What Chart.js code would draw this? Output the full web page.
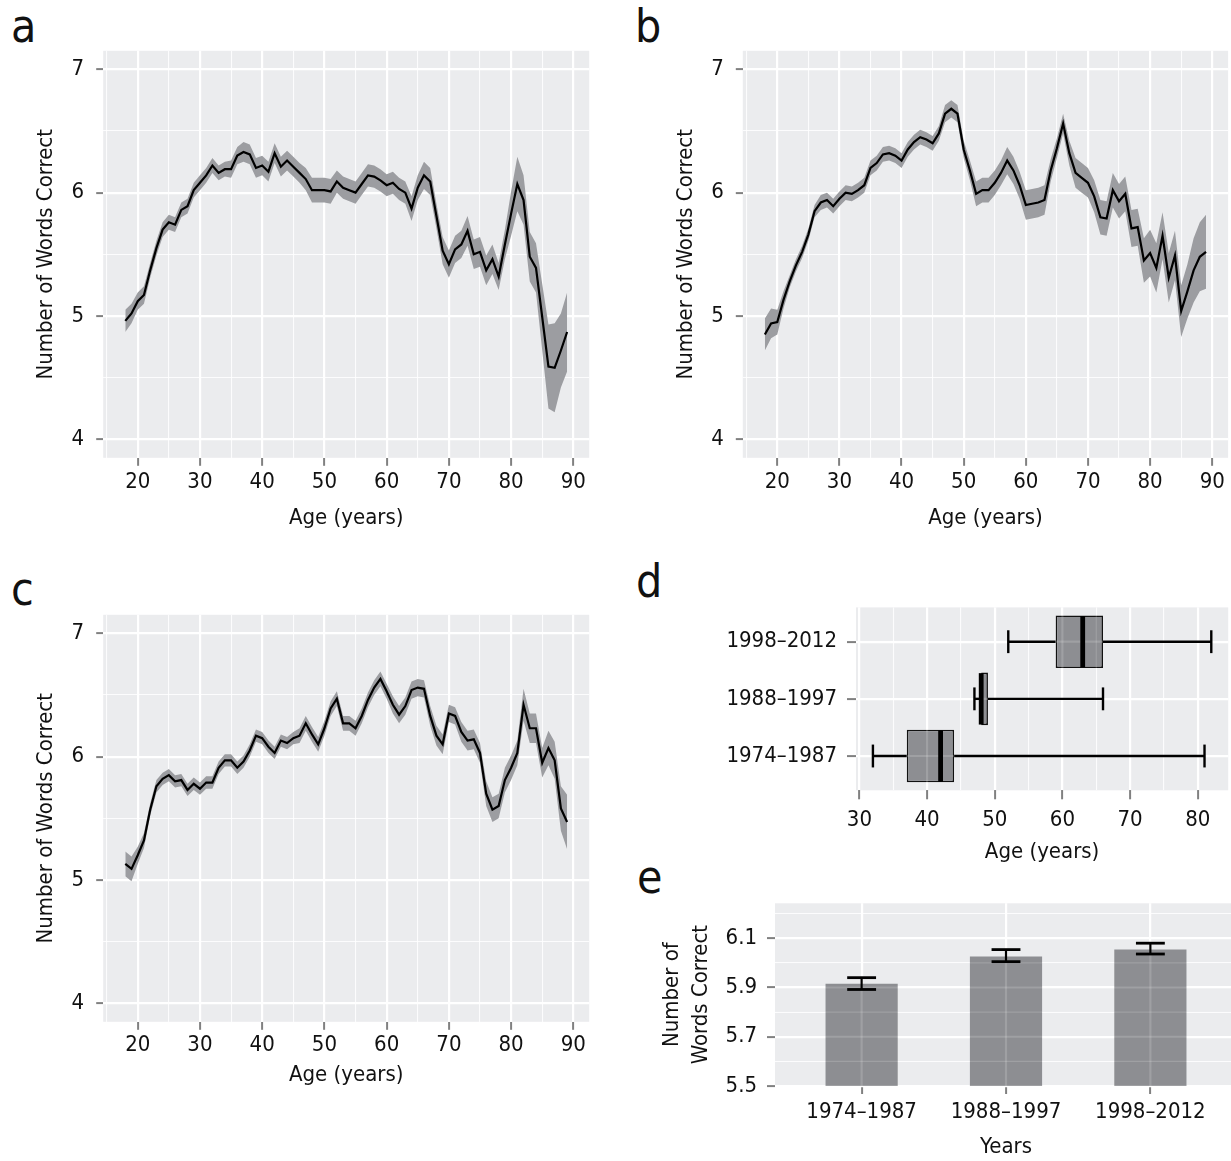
<!DOCTYPE html>
<html>
<head>
<meta charset="utf-8">
<script src="https://cdn.jsdelivr.net/npm/chart.js@4.4.1/dist/chart.umd.min.js"></script>
<style>
  html, body { margin: 0; padding: 0; background: #fff; width: 1231px; height: 1161px; overflow: hidden; }
  canvas { position: absolute; }
  .tag { position: absolute; font-family: 'Liberation Sans Narrow', 'DejaVu Sans Condensed', Roboto, sans-serif; font-size: 46px; line-height: 1; color: #111; }
</style>
</head>
<body>
<div class="tag" style="left:11px;top:3px">a</div>
<div class="tag" style="left:635px;top:3px">b</div>
<div class="tag" style="left:11px;top:566px">c</div>
<div class="tag" style="left:636px;top:558px">d</div>
<div class="tag" style="left:637px;top:854px">e</div>

<canvas id="chartA" width="600" height="510" style="left:0px;top:40px"></canvas>
<canvas id="chartB" width="610" height="510" style="left:630px;top:40px"></canvas>
<canvas id="chartC" width="600" height="490" style="left:0px;top:600px"></canvas>
<canvas id="chartD" width="600" height="300" style="left:640px;top:570px"></canvas>
<canvas id="chartE" width="597" height="281" style="left:640px;top:880px"></canvas>

<script>
// 1. Data
const ages = [18, 19, 20, 21, 22, 23, 24, 25, 26, 27, 28, 29, 30, 31, 32, 33, 34, 35,
  36, 37, 38, 39, 40, 41, 42, 43, 44, 45, 46, 47, 48, 49, 50, 51, 52, 53,
  54, 55, 56, 57, 58, 59, 60, 61, 62, 63, 64, 65, 66, 67, 68, 69, 70, 71,
  72, 73, 74, 75, 76, 77, 78, 79, 80, 81, 82, 83, 84, 85, 86, 87, 88, 89];

// panel a
const wordsA = [4.96, 5.02, 5.12, 5.17, 5.37, 5.55, 5.70, 5.76, 5.74, 5.86, 5.89, 6.02, 6.08, 6.14, 6.22, 6.16, 6.19, 6.19,
  6.30, 6.33, 6.31, 6.20, 6.22, 6.17, 6.32, 6.21, 6.26, 6.21, 6.16, 6.11, 6.02, 6.02, 6.02, 6.01, 6.09, 6.04,
  6.02, 6.00, 6.07, 6.14, 6.13, 6.10, 6.06, 6.08, 6.03, 6.00, 5.87, 6.04, 6.14, 6.09, 5.81, 5.53, 5.42, 5.54,
  5.58, 5.69, 5.50, 5.52, 5.37, 5.46, 5.32, 5.58, 5.83, 6.07, 5.94, 5.48, 5.39, 4.99, 4.59, 4.58, 4.72, 4.87];
const ciA = [.09, .08, .07, .07, .06, .06, .06, .06, .06, .06, .06, .06, .06, .06, .06, .06, .06, .07,
  .07, .08, .08, .08, .08, .08, .08, .08, .08, .08, .08, .09, .10, .10, .10, .10, .09, .09,
  .09, .09, .09, .09, .09, .09, .09, .09, .09, .09, .10, .10, .11, .11, .10, .11, .11, .11,
  .11, .12, .12, .12, .12, .12, .11, .12, .18, .22, .20, .20, .20, .27, .34, .36, .30, .32];

// panel b
const wordsB = [4.85, 4.94, 4.95, 5.13, 5.28, 5.41, 5.52, 5.66, 5.85, 5.92, 5.94, 5.89, 5.95, 6.00, 5.99, 6.02, 6.06, 6.20,
  6.24, 6.31, 6.32, 6.30, 6.26, 6.35, 6.41, 6.45, 6.43, 6.40, 6.48, 6.64, 6.68, 6.64, 6.35, 6.18, 5.99, 6.02,
  6.02, 6.08, 6.16, 6.26, 6.18, 6.06, 5.90, 5.91, 5.92, 5.94, 6.18, 6.36, 6.56, 6.32, 6.16, 6.12, 6.08, 5.97,
  5.80, 5.79, 6.02, 5.93, 5.99, 5.71, 5.72, 5.45, 5.51, 5.39, 5.65, 5.31, 5.49, 5.04, 5.20, 5.37, 5.48, 5.52];
const ciB = [.13, .12, .10, .07, .05, .05, .05, .05, .05, .06, .06, .06, .06, .06, .06, .06, .06, .06,
  .06, .06, .06, .06, .06, .06, .06, .06, .06, .06, .06, .07, .07, .07, .07, .08, .10, .10,
  .10, .10, .10, .11, .11, .11, .12, .12, .12, .12, .09, .08, .08, .10, .12, .12, .12, .13,
  .14, .14, .14, .14, .14, .15, .15, .18, .19, .20, .19, .20, .20, .21, .22, .26, .28, .30];

// panel c
const wordsC = [5.13, 5.09, 5.20, 5.32, 5.57, 5.76, 5.82, 5.85, 5.80, 5.81, 5.73, 5.78, 5.74, 5.79, 5.79, 5.91, 5.97, 5.97,
  5.91, 5.96, 6.05, 6.17, 6.15, 6.08, 6.03, 6.13, 6.11, 6.15, 6.17, 6.27, 6.18, 6.10, 6.23, 6.39, 6.47, 6.27,
  6.27, 6.23, 6.33, 6.46, 6.56, 6.63, 6.53, 6.42, 6.34, 6.41, 6.54, 6.56, 6.55, 6.33, 6.17, 6.10, 6.35, 6.33,
  6.20, 6.13, 6.14, 6.03, 5.70, 5.57, 5.60, 5.81, 5.91, 6.03, 6.42, 6.23, 6.23, 5.95, 6.07, 5.97, 5.58, 5.47];
const ciC = [.10, .10, .07, .06, .05, .05, .05, .05, .05, .05, .05, .05, .05, .05, .05, .05, .05, .05,
  .05, .05, .05, .05, .05, .05, .05, .05, .05, .05, .06, .06, .06, .06, .06, .06, .06, .06,
  .06, .06, .06, .06, .06, .06, .06, .07, .07, .07, .07, .07, .07, .08, .08, .08, .07, .07,
  .08, .08, .08, .08, .10, .10, .10, .10, .10, .10, .13, .12, .12, .12, .14, .15, .18, .22];

// panel d (age distribution per period)
const periods = ['1974–1987', '1988–1997', '1998–2012'];
const ageMin = [32, 47, 52];
const ageQ1 = [37, 48, 59];
const ageMed = [42, 48, 63];
const ageQ3 = [44, 49, 66];
const ageMax = [81, 66, 82];

// panel e (mean words correct per period)
const meanWords = [5.915, 6.026, 6.054];
const errLow = [5.892, 6.005, 6.036];
const errHigh = [5.940, 6.054, 6.080];

// tick positions
const ageTicks = [15, 20, 25, 30, 35, 40, 45, 50, 55, 60, 65, 70, 75, 80, 85, 90];
const wordTicks = [4, 4.5, 5, 5.5, 6, 6.5, 7];
const boxAgeTicks = [30, 35, 40, 45, 50, 55, 60, 65, 70, 75, 80];
const periodTicks = [0, 1, 2];
const barTicks = [5.5, 5.6, 5.7, 5.8, 5.9, 6.0, 6.1, 6.2];

// 2. Style helpers
const FONT = "'Liberation Sans Narrow', 'DejaVu Sans Condensed', Roboto, sans-serif";
const INK = '#111';
const BAND = '#9c9da1';
const MARK = '#8d8e92';

const panelBg = {
    id: 'panelBg',
    beforeDraw(chart) {
        const a = chart.chartArea, ctx = chart.ctx;
        ctx.save();
        ctx.fillStyle = '#ebecee';
        ctx.fillRect(a.left, a.top, a.right - a.left, a.bottom - a.top);
        ctx.restore();
    }
};

const allMajor = () => true;
const gridWidth = (major, v) => major(v) ? 2.2 : 1.1;

function ggAxis(o) {
    const major = o.major || allMajor;
    const isMaj = c => c.tick ? major(c.tick.value) : true;
    return {
        type: 'linear', position: o.position, min: o.min, max: o.max, offset: false,
        afterBuildTicks: s => { s.ticks = o.ticks.map(v => ({ value: v })); },
        afterFit: s => {
            if (s.isHorizontal()) s.height = o.size; else s.width = o.size;
            // the plot area is placed by the layout padding alone
            s.paddingTop = s.paddingBottom = s.paddingLeft = s.paddingRight = 0;
        },
        border: { display: false },
        grid: {
            offset: false,
            color: c => isMaj(c) ? '#ffffff' : 'rgba(255,255,255,0.85)',
            lineWidth: c => isMaj(c) ? 2.2 : 1.1,
            tickColor: c => isMaj(c) ? '#808080' : 'rgba(0,0,0,0)',
            tickWidth: 2, tickLength: o.tl, drawTicks: true
        },
        ticks: {
            autoSkip: false, maxRotation: 0, padding: o.pad, color: INK,
            font: { family: FONT, size: 22, lineHeight: 1 },
            callback: v => major(v) ? (o.label ? o.label(v) : String(v)) : ''
        },
        title: {
            display: !!o.title, text: o.title, color: INK,
            font: { family: FONT, size: 22, lineHeight: o.titleLh || 1.2 },
            padding: o.titlePad || 0
        }
    };
}

// light grid seen through the grey marks in d and e
function gridThrough(chart, majors) {
    const ctx = chart.ctx, a = chart.chartArea;
    ctx.save();
    ctx.strokeStyle = 'rgba(255,255,255,0.16)';
    ['x', 'y'].forEach(id => {
        const s = chart.scales[id];
        s.ticks.forEach(t => {
            const p = s.getPixelForValue(t.value);
            ctx.lineWidth = gridWidth(majors[id], t.value);
            ctx.beginPath();
            if (s.isHorizontal()) { ctx.moveTo(p, a.top); ctx.lineTo(p, a.bottom); }
            else { ctx.moveTo(a.left, p); ctx.lineTo(a.right, p); }
            ctx.stroke();
        });
    });
    ctx.restore();
}

function seg(ctx, x1, y1, x2, y2) {
    ctx.beginPath(); ctx.moveTo(x1, y1); ctx.lineTo(x2, y2); ctx.stroke();
}

// 3. Line panels (a, b, c)
const ageMajor = v => v % 10 === 0;
const wordMajor = v => Number.isInteger(v);

function linePanel(id, words, ci, box) {
    const pts = arr => ages.map((age, i) => ({ x: age, y: arr[i] }));
    new Chart(document.getElementById(id), {
        type: 'line',
        data: {
            datasets: [
                // first dataset is drawn on top
                { data: pts(words), borderWidth: 2.2, borderColor: '#000', pointRadius: 0, fill: false, tension: 0 },
                { data: pts(words.map((w, i) => w - ci[i])), borderWidth: 0, borderColor: 'rgba(0,0,0,0)', pointRadius: 0, fill: false },
                { data: pts(words.map((w, i) => w + ci[i])), borderWidth: 0, borderColor: 'rgba(0,0,0,0)', pointRadius: 0, fill: '-1', backgroundColor: BAND }
            ]
        },
        options: {
            responsive: false, animation: false, events: [],
            layout: { padding: { top: box.top, right: box.right, left: 0, bottom: 0 } },
            plugins: { legend: { display: false }, tooltip: { enabled: false } },
            scales: {
                x: ggAxis({ position: 'bottom', min: 14.45, max: 92.55, ticks: ageTicks, major: ageMajor,
                    size: box.xh, tl: 8, pad: box.xpad, title: 'Age (years)', titlePad: { top: 0, bottom: box.xtp } }),
                y: ggAxis({ position: 'left', min: 3.85, max: 7.15, ticks: wordTicks, major: wordMajor,
                    size: box.yw, tl: 7, pad: 12, title: 'Number of Words Correct', titlePad: { top: box.ytp, bottom: 0 } })
            }
        },
        plugins: [panelBg]
    });
}

linePanel('chartA', wordsA, ciA, { top: 10.8, right: 10.8, xh: 92.2, xpad: 5, xtp: 18.8, yw: 103.2, ytp: 32.8 });
linePanel('chartB', wordsB, ciB, { top: 10.8, right: 11.9, xh: 92.2, xpad: 5, xtp: 18.8, yw: 112.8, ytp: 42.8 });
linePanel('chartC', wordsC, ciC, { top: 14.8, right: 10.8, xh: 68.2, xpad: 4, xtp: 1.8, yw: 103.2, ytp: 32.8 });

// 4. Box plot (d)
const boxAgeMajor = v => v % 10 === 0;
const boxParts = {
    id: 'boxParts',
    afterDatasetsDraw(chart) {
        const ctx = chart.ctx, x = chart.scales.x, y = chart.scales.y;
        const unit = Math.abs(y.getPixelForValue(0) - y.getPixelForValue(1));
        gridThrough(chart, { x: boxAgeMajor, y: allMajor });
        ctx.save();
        ctx.strokeStyle = '#000';
        periods.forEach((p, i) => {
            const py = y.getPixelForValue(i);
            ctx.lineWidth = 2.4;
            seg(ctx, x.getPixelForValue(ageMin[i]), py, x.getPixelForValue(ageQ1[i]), py);
            seg(ctx, x.getPixelForValue(ageQ3[i]), py, x.getPixelForValue(ageMax[i]), py);
            seg(ctx, x.getPixelForValue(ageMin[i]), py - unit * 0.2, x.getPixelForValue(ageMin[i]), py + unit * 0.2);
            seg(ctx, x.getPixelForValue(ageMax[i]), py - unit * 0.2, x.getPixelForValue(ageMax[i]), py + unit * 0.2);
            ctx.lineWidth = 4.8;
            const m = x.getPixelForValue(ageMed[i]);
            seg(ctx, m, py - unit * 0.45, m, py + unit * 0.45);
        });
        ctx.restore();
    }
};

new Chart(document.getElementById('chartD'), {
    type: 'bar',
    data: {
        datasets: [{
            data: periods.map((p, i) => ({ y: i, x: [ageQ1[i], ageQ3[i]] })),
            backgroundColor: MARK, borderColor: '#111', borderWidth: 1.6, borderSkipped: false,
            barPercentage: 0.92, categoryPercentage: 1
        }]
    },
    options: {
        indexAxis: 'y', responsive: false, animation: false, events: [],
        layout: { padding: { top: 37.4, right: 11.8, left: 0, bottom: 0 } },
        plugins: { legend: { display: false }, tooltip: { enabled: false } },
        scales: {
            x: ggAxis({ position: 'bottom', min: 29.5, max: 84.5, ticks: boxAgeTicks, major: boxAgeMajor,
                size: 79.7, tl: 9, pad: 10, title: 'Age (years)', titlePad: { top: 0, bottom: 5 } }),
            y: ggAxis({ position: 'left', min: -0.6, max: 2.6, ticks: periodTicks, label: v => periods[v],
                size: 216, tl: 9, pad: 10 })
        }
    },
    plugins: [panelBg, boxParts]
});

// 5. Bar chart with error bars (e)
const barMajor = v => [5.5, 5.7, 5.9, 6.1].includes(v);
const errorBars = {
    id: 'errorBars',
    afterDatasetsDraw(chart) {
        const ctx = chart.ctx, x = chart.scales.x, y = chart.scales.y;
        const unit = Math.abs(x.getPixelForValue(1) - x.getPixelForValue(0));
        gridThrough(chart, { x: allMajor, y: barMajor });
        ctx.save();
        ctx.strokeStyle = '#000';
        meanWords.forEach((m, i) => {
            const px = x.getPixelForValue(i);
            const lo = y.getPixelForValue(errLow[i]), hi = y.getPixelForValue(errHigh[i]);
            ctx.lineWidth = 2.2;
            seg(ctx, px, lo, px, hi);
            ctx.lineWidth = 2.8;
            seg(ctx, px - unit * 0.1, lo, px + unit * 0.1, lo);
            seg(ctx, px - unit * 0.1, hi, px + unit * 0.1, hi);
        });
        ctx.restore();
    }
};

new Chart(document.getElementById('chartE'), {
    type: 'bar',
    data: {
        datasets: [{
            data: meanWords.map((m, i) => ({ x: i, y: m })),
            backgroundColor: MARK, borderWidth: 0,
            barPercentage: 0.5, categoryPercentage: 1
        }]
    },
    options: {
        responsive: false, animation: false, events: [],
        layout: { padding: { top: 23.3, right: 0, left: 0, bottom: 0 } },
        plugins: { legend: { display: false }, tooltip: { enabled: false } },
        scales: {
            x: ggAxis({ position: 'bottom', min: -0.6, max: 2.6, ticks: periodTicks, label: v => periods[v],
                size: 75, tl: 8, pad: 7, title: 'Years', titlePad: { top: 0, bottom: 1 } }),
            y: ggAxis({ position: 'left', min: 5.5, max: 6.242, ticks: barTicks, major: barMajor,
                label: v => v.toFixed(1), size: 135, tl: 8, pad: 10,
                title: ['Number of', 'Words Correct'], titleLh: 1.35, titlePad: { top: 17, bottom: 0 } })
        }
    },
    plugins: [panelBg, errorBars]
});
</script>
</body>
</html>
